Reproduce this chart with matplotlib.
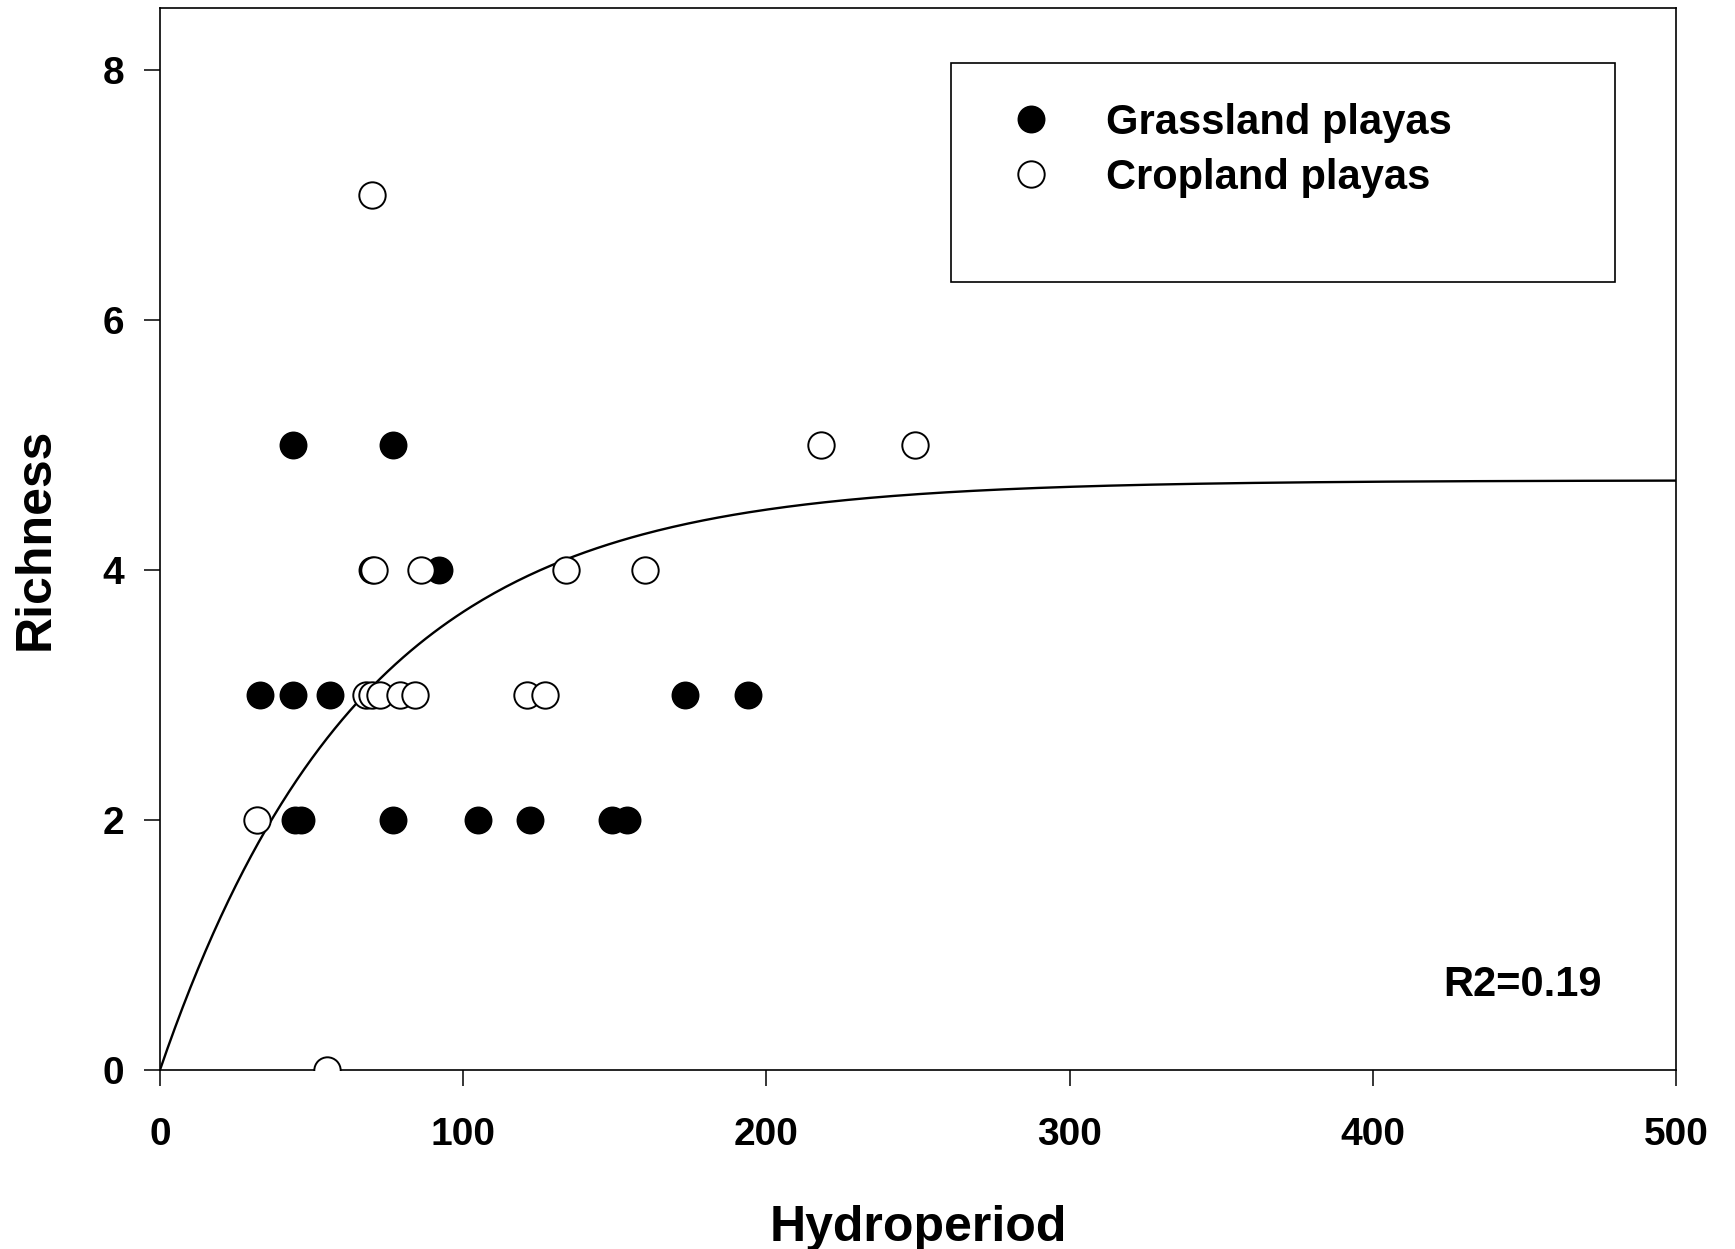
import numpy as np
import matplotlib
matplotlib.use('Agg')
import matplotlib.pyplot as plt
from matplotlib.patches import Rectangle

plt.rcParams['font.family'] = ['Liberation Sans', 'DejaVu Sans']
plt.rcParams['font.weight'] = 'bold'

# Grassland playas (filled circles)
grass_hydro = [44, 77, 70, 92, 33, 44, 56, 173, 194, 44.5, 46.5, 77, 105, 122, 149, 154]
grass_rich = [5, 5, 4, 4, 3, 3, 3, 3, 3, 2, 2, 2, 2, 2, 2, 2]

# Cropland playas (open circles)
crop_hydro = [70, 218, 249, 70.5, 86, 134, 160, 68, 70, 72.5, 79, 84, 121, 127, 32, 55]
crop_rich = [7, 5, 5, 4, 4, 4, 4, 3, 3, 3, 3, 3, 3, 3, 2, 0]

# fitted exponential rise to max: y = a * (1 - exp(-b x))
fit_a = 4.72
fit_b = 0.0150
r2_text = 'R2=0.19'

x_ticks = [0, 100, 200, 300, 400, 500]
y_ticks = [0, 2, 4, 6, 8]

fig = plt.figure(figsize=(17.35, 12.49), dpi=100)
ax = fig.add_axes([0.0922, 0.1433, 0.8738, 0.8503])

xx = np.linspace(0, 500, 400)
ax.plot(xx, fit_a * (1 - np.exp(-fit_b * xx)), color='black', linewidth=1.7, zorder=2)

ax.plot(grass_hydro, grass_rich, 'o', linestyle='none', markersize=19,
        markerfacecolor='black', markeredgecolor='black', markeredgewidth=1.1,
        label='Grassland playas', zorder=3)
ax.plot(crop_hydro, crop_rich, 'o', linestyle='none', markersize=19,
        markerfacecolor='white', markeredgecolor='black', markeredgewidth=1.4,
        label='Cropland playas', zorder=4)

ax.set_xlim(0, 500)
ax.set_ylim(0, 8.5)
ax.set_xticks(x_ticks)
ax.set_yticks(y_ticks)
ax.tick_params(axis='both', direction='out', length=11.5, width=1.1,
               labelsize=28, top=False, right=False)
ax.tick_params(axis='x', pad=22)
ax.tick_params(axis='y', pad=14)
for lab in ax.get_xticklabels() + ax.get_yticklabels():
    lab.set_fontweight('bold')
for sp in ax.spines.values():
    sp.set_linewidth(1.2)

ax.set_xlabel('Hydroperiod', fontsize=36, fontweight='bold', labelpad=38)
ax.set_ylabel('Richness', fontsize=36, fontweight='bold', labelpad=32)

# legend box (taller than the entries, as in the original)
ax.add_patch(Rectangle((0.522, 0.742), 0.438, 0.206, transform=ax.transAxes,
                       facecolor='white', edgecolor='black', linewidth=1.2, zorder=5))
leg = ax.legend(loc='upper left', bbox_to_anchor=(0.5225, 0.946), frameon=False,
                fontsize=30, labelspacing=0.36, handletextpad=0.8, borderpad=0.4)
leg.set_zorder(6)
for t in leg.get_texts():
    t.set_fontweight('bold')

ax.text(0.951, 0.080, r2_text, transform=ax.transAxes, ha='right', va='center',
        fontsize=30, fontweight='bold')

fig.savefig('out.png', dpi=100)
